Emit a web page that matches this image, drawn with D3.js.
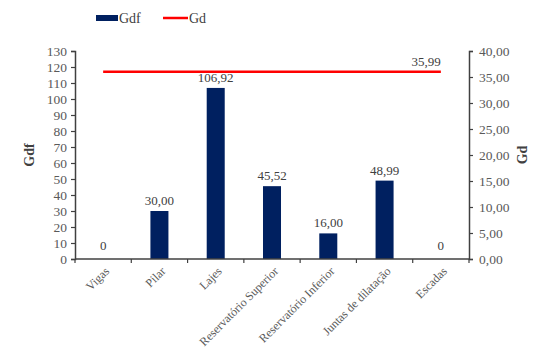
<!DOCTYPE html>
<html><head><meta charset="utf-8">
<script src="https://cdn.jsdelivr.net/npm/d3@7"></script>
<style>body{margin:0;background:#fff}svg{display:block}</style>
</head><body><svg id="c" width="537" height="350"></svg>
<script>
const categories = ["Vigas","Pilar","Lajes","Reservatório Superior","Reservatório Inferior","Juntas de dilatação","Escadas"];
const gdfValues = [0, 30.00, 106.92, 45.52, 16.00, 48.99, 0];
const gdfLabels = ["0","30,00","106,92","45,52","16,00","48,99","0"];
const gdValue = 35.99;
const gdLabel = "35,99";
const leftTicks = [0,10,20,30,40,50,60,70,80,90,100,110,120,130];
const rightTicks = [0,5,10,15,20,25,30,35,40];

const svg = d3.select("#c");
const L = 75, R = 469, T = 51, B = 259;
const axisColor = "#404040", tickText = "#595959", barColor = "#002060", red = "#FF0000";
const FONT = "'Liberation Serif', 'Times New Roman', Times, serif";
const x = d3.scaleBand().domain(categories).range([L, R]).paddingInner(0.68).paddingOuter(0.34);
const xb = d3.scaleBand().domain(categories).range([L, R]);
const yL = d3.scaleLinear().domain([0,130]).range([B, T]);
const yR = d3.scaleLinear().domain([0,40]).range([B, T]);
const fmt = d => d3.format(".2f")(d).replace(".", ",");

svg.selectAll("rect.bar").data(categories).enter().append("rect")
  .attr("x", d => x(d)).attr("width", x.bandwidth())
  .attr("y", (d,i) => yL(gdfValues[i])).attr("height", (d,i) => B - yL(gdfValues[i]))
  .attr("fill", barColor);

svg.selectAll("text.bl").data(categories).enter().append("text")
  .attr("x", d => xb(d) + xb.bandwidth()/2)
  .attr("y", (d,i) => yL(gdfValues[i]) - (gdfValues[i] === 0 ? 9 : 6))
  .attr("text-anchor","middle").attr("font-size",13).attr("fill","#404040")
  .text((d,i) => gdfLabels[i]);

const la = svg.append("g").attr("transform",`translate(${L},0)`)
  .call(d3.axisLeft(yL).tickValues(leftTicks).tickSize(4).tickPadding(4).tickFormat(d3.format("d")));
la.select(".domain").attr("stroke",axisColor).attr("stroke-width",1.5);
la.selectAll(".tick line").attr("stroke",axisColor).attr("stroke-width",1.2);
la.selectAll(".tick text").attr("fill",tickText).attr("font-size",13.5);

const ra = svg.append("g").attr("transform",`translate(${R},0)`)
  .call(d3.axisRight(yR).tickValues(rightTicks).tickSize(4).tickPadding(6).tickFormat(fmt));
ra.select(".domain").attr("stroke",axisColor).attr("stroke-width",1.5);
ra.selectAll(".tick line").attr("stroke",axisColor).attr("stroke-width",1.2);
ra.selectAll(".tick text").attr("fill",tickText).attr("font-size",13.5);

const boundaries = categories.map(c => xb(c)).concat([R]);
const xa = svg.append("g");
xa.append("line").attr("x1",L).attr("x2",R).attr("y1",B).attr("y2",B).attr("stroke",axisColor).attr("stroke-width",1.5);
xa.selectAll("line.t").data(boundaries).enter().append("line")
  .attr("x1",d=>d).attr("x2",d=>d).attr("y1",B).attr("y2",B+4).attr("stroke",axisColor).attr("stroke-width",1.2);
xa.selectAll("text").data(categories).enter().append("text")
  .attr("transform", d => `translate(${xb(d)+xb.bandwidth()/2+4},${B+10}) rotate(-45)`)
  .attr("text-anchor","end").attr("dy","0.35em").attr("font-size",12).attr("fill",tickText)
  .text(d => d);

const x0 = xb(categories[0]) + xb.bandwidth()/2, x1 = xb(categories[categories.length-1]) + xb.bandwidth()/2;
svg.append("line").attr("x1",x0).attr("x2",x1).attr("y1",yR(gdValue)).attr("y2",yR(gdValue))
  .attr("stroke",red).attr("stroke-width",2.5);
svg.append("text").attr("x",x1).attr("y",yR(gdValue)-6).attr("text-anchor","end")
  .attr("font-size",13).attr("fill","#404040").text(gdLabel);

svg.append("text").attr("transform","translate(34,155) rotate(-90)").attr("text-anchor","middle")
  .attr("font-size",14).attr("font-weight","bold").attr("fill","#404040").text("Gdf");
svg.append("text").attr("transform","translate(527,155) rotate(-90)").attr("text-anchor","middle")
  .attr("font-size",14).attr("font-weight","bold").attr("fill","#404040").text("Gd");

svg.append("rect").attr("x",96).attr("y",15).attr("width",22).attr("height",6).attr("fill",barColor);
svg.append("text").attr("x",119).attr("y",23).attr("font-size",14).attr("fill","#404040").text("Gdf");
svg.append("line").attr("x1",163).attr("x2",188).attr("y1",18).attr("y2",18).attr("stroke",red).attr("stroke-width",2.5);
svg.append("text").attr("x",189).attr("y",23).attr("font-size",14).attr("fill","#404040").text("Gd");

svg.selectAll("text").style("font-family", FONT);
</script></body></html>
